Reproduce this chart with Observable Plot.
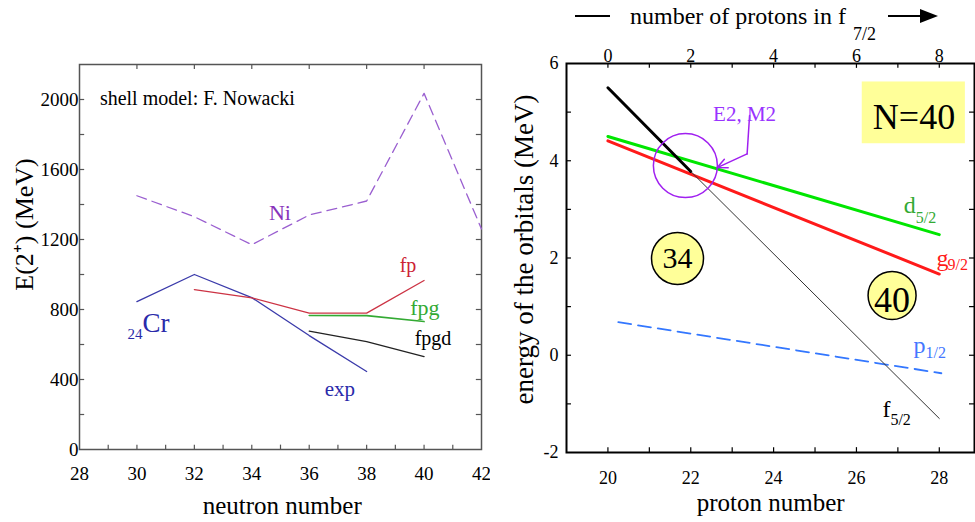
<!DOCTYPE html>
<html><head><meta charset="utf-8">
<script src="https://cdn.jsdelivr.net/npm/d3@7"></script>
<script src="https://cdn.jsdelivr.net/npm/@observablehq/plot@0.6"></script>
<style>
body{margin:0;background:#fff;}
#wrap{position:relative;width:975px;height:522px;overflow:hidden;font-family:"Liberation Serif","Times New Roman",serif;background:#fff;}
#left{position:absolute;left:0;top:0;width:490px;height:522px;overflow:hidden;}
#right{position:absolute;left:490px;top:0;width:485px;height:522px;}
.t{position:absolute;white-space:nowrap;line-height:1;color:#000;}
</style></head>
<body>
<div id="wrap">
  <div id="left"></div>
  <div id="right"></div>
  <div class="t" style="left:575px;top:15px;width:35px;height:1.5px;background:#000"></div>
  <div class="t" style="left:630px;top:4px;font-size:24px">number of protons in f</div>
  <div class="t" style="left:853px;top:25px;font-size:18px">7/2</div>
  <div class="t" style="left:888px;top:15px;width:34px;height:2px;background:#000"></div>
  <div class="t" style="left:920px;top:9px;width:0;height:0;border-left:18px solid #000;border-top:7px solid transparent;border-bottom:7px solid transparent"></div>
</div>
<script>
// ---------- Left panel data: E(2+) vs neutron number ----------
const niN   = [30, 32, 34, 36, 38, 40, 42];
const niE   = [1450, 1330, 1170, 1340, 1420, 2035, 1260];
const expN  = [30, 32, 34, 36, 38];
const expE  = [845, 1000, 868, 651, 446];
const fpN   = [32, 34, 36, 38, 40];
const fpE   = [914, 867, 779, 779, 966];
const fpgN  = [36, 38, 40];
const fpgE  = [766, 765, 731];
const fpgdN = [36, 38, 40];
const fpgdE = [676, 617, 531];
const leftXTicks = [28, 30, 32, 34, 36, 38, 40, 42];
const leftXMinor = [29, 30, 31, 32, 33, 34, 35, 36, 37, 38, 39, 40, 41];
const leftXTop   = [30, 32, 34, 36, 38, 40];
const leftYTicks = [0, 400, 800, 1200, 1600, 2000];
const leftYMinor = [200, 400, 600, 800, 1000, 1200, 1400, 1600, 1800, 2000];
const leftLabels = [
  {x: 28.71, y: 2006, text: "shell model: F. Nowacki", color: "#000", size: 20, anchor: "start"},
  {x: 34.98, y: 1354, text: "Ni", color: "#8833bb", size: 22, anchor: "middle"},
  {x: 39.44, y: 1051, text: "fp", color: "#cc2233", size: 20, anchor: "middle"},
  {x: 40.03, y: 806, text: "fpg", color: "#33aa33", size: 22, anchor: "middle"},
  {x: 40.31, y: 634, text: "fpgd", color: "#000", size: 20, anchor: "middle"},
  {x: 37.07, y: 343, text: "exp", color: "#2a2aaa", size: 21, anchor: "middle"},
  {x: 30.66, y: 723, text: "Cr", color: "#2a2aaa", size: 27, anchor: "middle"},
  {x: 29.93, y: 657, text: "24", color: "#2a2aaa", size: 15, anchor: "middle"}
];
const leftTitles = [
  {x: 26.10, y: 1286, text: "E(2⁺) (MeV)", size: 26, rotate: -90},
  {x: 35.06, y: -320, text: "neutron number", size: 25, rotate: 0}
];

// ---------- Right panel data: orbital energies vs proton number ----------
const orbX   = [20, 28];
const d52    = [4.50, 2.48];
const g92    = [4.41, 1.67];
const p12X   = [20.25, 28.05];
const p12    = [0.68, -0.37];
const f52X   = [20, 22, 28];
const f52    = [5.50, 3.78, -1.30];
const rightXTicks = [20, 22, 24, 26, 28];
const rightXMinor = [20, 21, 22, 23, 24, 25, 26, 27, 28];
const rightYTicks = [-2, 0, 2, 4, 6];
const rightYMinor = [-1, 0, 1, 2, 3, 4, 5];
const topTicks = [20, 22, 24, 26, 28]; // shown as 0..8 protons in f7/2
const crossing = [{x: 21.87, y: 3.90}];
const arrowPts = [{x: 23.42, y: 4.93}, {x: 23.36, y: 4.14}, {x: 22.64, y: 3.86}];
const bubbles = [{x: 21.68, y: 1.99, r: 26, text: "34", size: 30, ty: 1.99},
                 {x: 26.86, y: 1.23, r: 24, text: "40", size: 36, ty: 1.12}];
const nBox = [{x1: 26.14, x2: 28.63, y1: 4.35, y2: 5.62}];
const rightLabels = [
  {x: 23.30, y: 4.96, text: "E2, M2", color: "#9933ff", size: 21, anchor: "middle"},
  {x: 27.39, y: 4.90, text: "N=40", color: "#000", size: 36, anchor: "middle"},
  {x: 27.14, y: 3.08, text: "d", color: "#33aa33", size: 24, anchor: "start"},
  {x: 27.43, y: 2.83, text: "5/2", color: "#33aa33", size: 16, anchor: "start"},
  {x: 27.93, y: 2.00, text: "g", color: "#ff1a1a", size: 24, anchor: "start"},
  {x: 28.20, y: 1.85, text: "9/2", color: "#ff1a1a", size: 16, anchor: "start"},
  {x: 27.38, y: 0.20, text: "p", color: "#4477ff", size: 24, anchor: "start"},
  {x: 27.67, y: 0.04, text: "1/2", color: "#4477ff", size: 16, anchor: "start"},
  {x: 26.63, y: -1.12, text: "f", color: "#000", size: 24, anchor: "start"},
  {x: 26.82, y: -1.33, text: "5/2", color: "#000", size: 16, anchor: "start"}
];
const rightTitles = [
  {x: 17.98, y: 2.175, text: "energy of the orbitals (MeV)", size: 27, rotate: -90},
  {x: 23.93, y: -3.04, text: "proton number", size: 25, rotate: 0}
];

const pts = (xs, ys) => xs.map((x, i) => ({x, y: ys[i]}));
const fmt = d => String(d);
const font = "Liberation Serif, Times New Roman, serif";

function labelMarks(arr) {
  return arr.map(d => Plot.text([d], {x: "x", y: "y", text: "text", fill: d.color, fontSize: d.size,
    textAnchor: d.anchor, fontFamily: font}));
}
function titleMarks(arr) {
  return arr.map(d => Plot.text([d], {x: "x", y: "y", text: "text", fill: "#000", fontSize: d.size,
    rotate: d.rotate, fontFamily: font}));
}
// inward tick marks, length given in data units of the perpendicular scale
function ticksX(values, yFrom, yTo, stroke) {
  return Plot.ruleX(values, {x: d => d, y1: yFrom, y2: yTo, stroke, strokeWidth: 1.2});
}
function ticksY(values, xFrom, xTo, stroke) {
  return Plot.ruleY(values, {y: d => d, x1: xFrom, x2: xTo, stroke, strokeWidth: 1.2});
}

const left = Plot.plot({
  width: 490, height: 522,
  marginLeft: 79, marginRight: 9, marginTop: 64, marginBottom: 73,
  x: {domain: [28, 42]},
  y: {domain: [0, 2200]},
  style: {fontFamily: font, color: "#000", background: "transparent", overflow: "visible"},
  marks: [
    Plot.axisX(leftXTicks, {tickSize: 0, tickPadding: 17, fontSize: 19, label: null, tickFormat: fmt}),
    Plot.axisY(leftYTicks, {tickSize: 0, tickPadding: 1, fontSize: 19, label: null, tickFormat: fmt}),
    ticksX(leftXMinor, 0, 25, "#555"),
    ticksX(leftXTop, 2200, 2172, "#555"),
    ticksY(leftYMinor, 28, 28.18, "#555"),
    ticksY(leftYMinor, 41.82, 42, "#555"),
    Plot.frame({stroke: "#555", strokeWidth: 1.5}),
    Plot.line(pts(niN, niE), {x: "x", y: "y", stroke: "#9a5fd0", strokeWidth: 1.3, strokeDasharray: "10,6"}),
    Plot.line(pts(expN, expE), {x: "x", y: "y", stroke: "#3a3aaa", strokeWidth: 1.3}),
    Plot.line(pts(fpN, fpE), {x: "x", y: "y", stroke: "#cc3344", strokeWidth: 1.3}),
    Plot.line(pts(fpgN, fpgE), {x: "x", y: "y", stroke: "#33aa33", strokeWidth: 1.6}),
    Plot.line(pts(fpgdN, fpgdE), {x: "x", y: "y", stroke: "#222", strokeWidth: 1.3}),
    ...labelMarks(leftLabels),
    ...titleMarks(leftTitles)
  ]
});
document.getElementById("left").appendChild(left);

const right = Plot.plot({
  width: 485, height: 522,
  marginLeft: 76, marginRight: 1, marginTop: 63, marginBottom: 70,
  x: {domain: [19, 28.85]},
  y: {domain: [-2, 6]},
  r: {type: "identity"},
  style: {fontFamily: font, color: "#000", background: "transparent", overflow: "visible"},
  marks: [
    Plot.axisX(rightXTicks, {tickSize: 0, tickPadding: 19, fontSize: 18, label: null, tickFormat: fmt}),
    Plot.axisX(topTicks, {anchor: "top", tickSize: 0, tickPadding: 2, fontSize: 18, label: null, tickFormat: d => String(d - 20)}),
    Plot.axisY(rightYTicks, {tickSize: 0, tickPadding: 8, fontSize: 18, label: null, tickFormat: fmt}),
    ticksX(rightXMinor, -2, -1.9, "#000"),
    ticksX(rightXMinor, 6, 5.9, "#000"),
    ticksY(rightYMinor, 19, 19.12, "#000"),
    ticksY(rightYMinor, 28.73, 28.85, "#000"),
    Plot.frame({stroke: "#000", strokeWidth: 2}),
    Plot.rect(nBox, {x1: "x1", x2: "x2", y1: "y1", y2: "y2", fill: "#ffff99"}),
    Plot.line(pts(orbX, d52), {x: "x", y: "y", stroke: "#00e600", strokeWidth: 3}),
    Plot.line(pts(orbX, g92), {x: "x", y: "y", stroke: "#ff1a1a", strokeWidth: 3}),
    Plot.line(pts(p12X, p12), {x: "x", y: "y", stroke: "#3377ff", strokeWidth: 1.8, strokeDasharray: "13,7"}),
    Plot.line(pts(f52X, f52).slice(0, 2), {x: "x", y: "y", stroke: "#000", strokeWidth: 3}),
    Plot.line(pts(f52X, f52).slice(1), {x: "x", y: "y", stroke: "#333", strokeWidth: 1}),
    Plot.dot(crossing, {x: "x", y: "y", r: 32, stroke: "#a020f0", strokeWidth: 1.5, fill: "none"}),
    Plot.line(arrowPts.slice(0, 2), {x: "x", y: "y", stroke: "#a020f0", strokeWidth: 1.5}),
    Plot.arrow([arrowPts], {x1: d => d[1].x, y1: d => d[1].y, x2: d => d[2].x, y2: d => d[2].y,
      stroke: "#a020f0", strokeWidth: 1.5, headLength: 14, headAngle: 50}),
    Plot.dot(bubbles, {x: "x", y: "y", r: "r", fill: "#ffff99", stroke: "#000", strokeWidth: 1.5}),
    ...bubbles.map(b => Plot.text([b], {x: "x", y: "ty", text: "text", fontSize: b.size, fill: "#000", fontFamily: font})),
    ...labelMarks(rightLabels),
    ...titleMarks(rightTitles)
  ]
});
document.getElementById("right").appendChild(right);
</script>
</body></html>
